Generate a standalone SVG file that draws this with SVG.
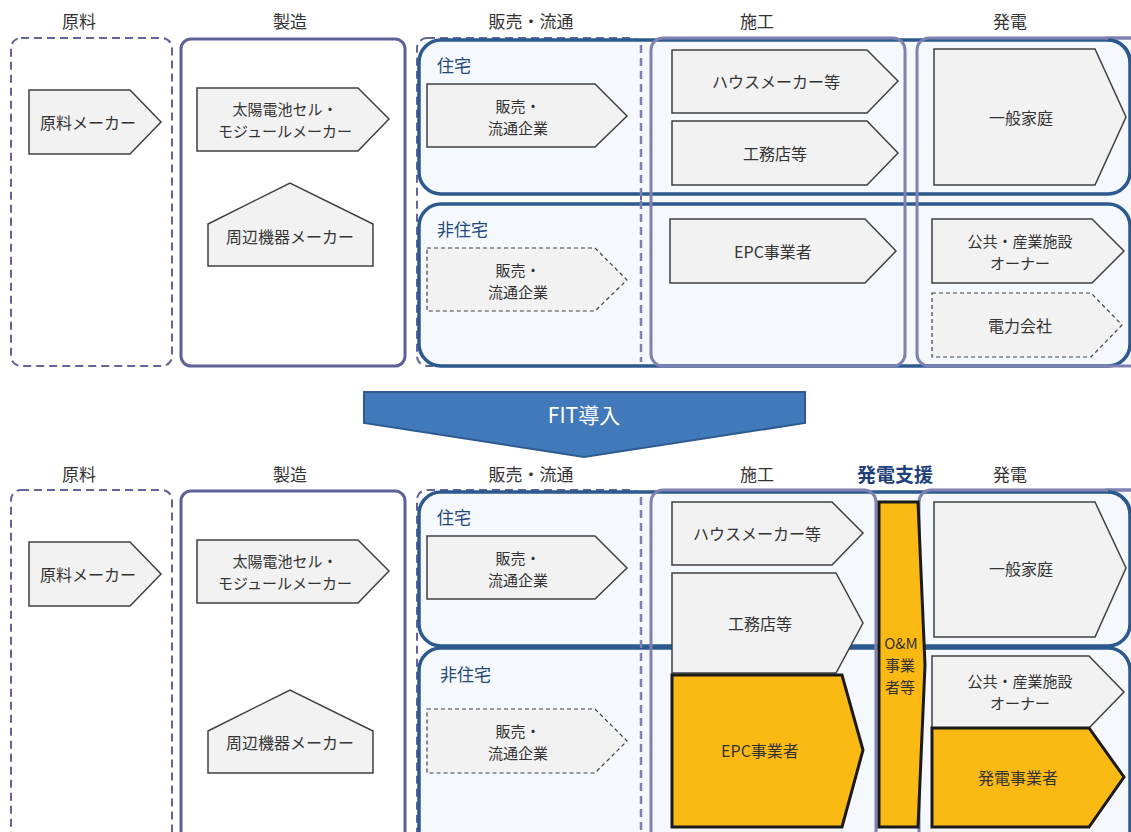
<svg xmlns="http://www.w3.org/2000/svg" width="1131" height="832" viewBox="0 0 1131 832">
<style>
text{font-family:"Noto Sans CJK JP","Noto Sans",sans-serif;fill:#333;text-anchor:middle;dominant-baseline:central}
.hd{font-size:17px}
.nt{font-size:16px}
.n2{font-size:15px}
.sub{font-size:17px;fill:#24477A;text-anchor:start}
.dashp{fill:none;stroke:#62649A;stroke-width:2;stroke-dasharray:8 5}
.solp{fill:none;stroke:#5E6199;stroke-width:3}
.colp{fill:none;stroke:#7F81B2;stroke-width:3}
.blue{fill:#F5F9FD;stroke:#2C5A8E;stroke-width:3.5}
.nd{fill:#F2F2F2;stroke:#404040;stroke-width:1.5}
.ndd{fill:#F2F2F2;stroke:#404040;stroke-width:1.2;stroke-dasharray:4 3}
.or{fill:#FBBA13;stroke:#1A1A1A;stroke-width:3;stroke-linejoin:miter}
</style>
<rect width="1131" height="832" fill="#fff"/>

<!-- ===== TOP HALF ===== -->
<g id="headers-top">
<text class="hd" x="79" y="20">原料</text>
<text class="hd" x="290" y="20">製造</text>
<text class="hd" x="531" y="20">販売・流通</text>
<text class="hd" x="757" y="20">施工</text>
<text class="hd" x="1010" y="20">発電</text>
</g>
<g id="containers-top">
<rect class="dashp" x="11" y="38" width="161" height="328" rx="10"/>
<rect class="solp" x="181" y="39" width="224" height="327" rx="10"/>
<rect class="dashp" x="417" y="38" width="224" height="328" rx="10"/>
<rect x="651" y="38" width="254" height="328" rx="12" fill="#F5F9FD"/>
<rect x="917" y="38" width="230" height="328" rx="12" fill="#F5F9FD"/>
<rect class="blue" x="419" y="40" width="711" height="154" rx="22"/>
<rect class="blue" x="419" y="204" width="711" height="162" rx="22"/>
<line x1="641" y1="45" x2="641" y2="362" stroke="#7F81B2" stroke-width="2.5" stroke-dasharray="8 5"/>
<rect class="colp" x="651" y="38" width="254" height="328" rx="12"/>
<rect class="colp" x="917" y="38" width="230" height="328" rx="12"/>
<line x1="1105" y1="38" x2="1131" y2="38" stroke="#7F81B2" stroke-width="3"/>
<path d="M1108 40 A22 22 0 0 1 1130 62" fill="none" stroke="#2C5A8E" stroke-width="3.5"/>
</g>
<text class="sub" x="437" y="64">住宅</text>
<text class="sub" x="437" y="228">非住宅</text>

<g id="t-genryo">
<polygon class="nd" points="29,90 130,90 161,122 130,154 29,154"/>
<text class="nt" x="88" y="122">原料メーカー</text>
</g>
<g id="t-module">
<polygon class="nd" points="197,88 358,88 389,119 358,151 197,151"/>
<text class="n2" x="285" y="108">太陽電池セル・</text>
<text class="n2" x="285" y="130">モジュールメーカー</text>
</g>
<g id="t-shuhen">
<polygon class="nd" points="208,224 290,183 373,224 373,266 208,266"/>
<text class="nt" x="290" y="236">周辺機器メーカー</text>
</g>
<g id="t-hanbai1">
<polygon class="nd" points="427,84 595,84 627,116 595,147 427,147"/>
<text class="n2" x="518" y="105">販売・</text>
<text class="n2" x="518" y="127">流通企業</text>
</g>
<g id="t-hanbai2">
<polygon class="ndd" points="427,248 595,248 627,280 595,311 427,311"/>
<text class="n2" x="518" y="269">販売・</text>
<text class="n2" x="518" y="291">流通企業</text>
</g>
<g id="t-house">
<polygon class="nd" points="672,50 867,50 898,81 867,113 672,113"/>
<text class="nt" x="776" y="81">ハウスメーカー等</text>
</g>
<g id="t-koumu">
<polygon class="nd" points="672,121 867,121 898,153 867,185 672,185"/>
<text class="nt" x="775" y="153">工務店等</text>
</g>
<g id="t-epc">
<polygon class="nd" points="670,219 865,219 896,251 865,283 670,283"/>
<text class="nt" x="773" y="251">EPC事業者</text>
</g>
<g id="t-katei">
<polygon class="nd" points="934,49 1095,49 1126,117 1095,185 934,185"/>
<text class="nt" x="1021" y="117">一般家庭</text>
</g>
<g id="t-owner">
<polygon class="nd" points="932,219 1092,219 1124,251 1092,283 932,283"/>
<text class="n2" x="1020" y="240">公共・産業施設</text>
<text class="n2" x="1020" y="262">オーナー</text>
</g>
<g id="t-denryoku">
<polygon class="ndd" points="932,293 1091,293 1122,325 1091,357 932,357"/>
<text class="nt" x="1020" y="325">電力会社</text>
</g>

<!-- ===== FIT ARROW ===== -->
<g id="fit">
<polygon points="364,392 805,392 805,423 584,457 364,423" fill="#4179BA" stroke="#2D5B91" stroke-width="2"/>
<text x="584" y="414" style="fill:#fff;font-size:21px">FIT導入</text>
</g>

<!-- ===== BOTTOM HALF ===== -->
<g id="headers-bottom">
<text class="hd" x="79" y="473">原料</text>
<text class="hd" x="290" y="473">製造</text>
<text class="hd" x="531" y="473">販売・流通</text>
<text class="hd" x="757" y="473">施工</text>
<text x="895" y="473" style="font-size:19px;font-weight:bold;fill:#1F3F7A">発電支援</text>
<text class="hd" x="1010" y="473">発電</text>
</g>
<g id="containers-bottom">
<rect class="dashp" x="11" y="490" width="161" height="370" rx="10"/>
<rect class="solp" x="181" y="491" width="224" height="370" rx="10"/>
<rect class="dashp" x="417" y="490" width="224" height="370" rx="10"/>
<rect x="651" y="490" width="225" height="370" rx="12" fill="#F5F9FD"/>
<rect x="919" y="490" width="230" height="370" rx="12" fill="#F5F9FD"/>
<rect class="blue" x="419" y="492" width="711" height="154" rx="22"/>
<rect class="blue" x="419" y="648" width="711" height="210" rx="22"/>
<line x1="641" y1="497" x2="641" y2="832" stroke="#7F81B2" stroke-width="2.5" stroke-dasharray="8 5"/>
<rect class="colp" x="651" y="490" width="225" height="370" rx="12"/>
<rect class="colp" x="919" y="490" width="230" height="370" rx="12"/>
<line x1="1105" y1="490" x2="1131" y2="490" stroke="#7F81B2" stroke-width="3"/>
<path d="M1108 492 A22 22 0 0 1 1130 514" fill="none" stroke="#2C5A8E" stroke-width="3.5"/>
</g>
<text class="sub" x="437" y="516">住宅</text>
<text class="sub" x="440" y="673">非住宅</text>

<g id="b-genryo">
<polygon class="nd" points="29,542 130,542 161,574 130,606 29,606"/>
<text class="nt" x="88" y="574">原料メーカー</text>
</g>
<g id="b-module">
<polygon class="nd" points="197,540 358,540 389,571 358,603 197,603"/>
<text class="n2" x="285" y="560">太陽電池セル・</text>
<text class="n2" x="285" y="582">モジュールメーカー</text>
</g>
<g id="b-shuhen">
<polygon class="nd" points="208,731 290,690 373,731 373,773 208,773"/>
<text class="nt" x="290" y="742">周辺機器メーカー</text>
</g>
<g id="b-hanbai1">
<polygon class="nd" points="427,536 595,536 627,568 595,599 427,599"/>
<text class="n2" x="518" y="557">販売・</text>
<text class="n2" x="518" y="579">流通企業</text>
</g>
<g id="b-hanbai2">
<polygon class="ndd" points="427,709 595,709 627,741 595,773 427,773"/>
<text class="n2" x="518" y="730">販売・</text>
<text class="n2" x="518" y="752">流通企業</text>
</g>
<g id="b-house">
<polygon class="nd" points="672,502 832,502 863,533 832,565 672,565"/>
<text class="nt" x="757" y="533">ハウスメーカー等</text>
</g>
<g id="b-koumu">
<polygon class="nd" points="672,573 836,573 863,623 836,673 672,673"/>
<text class="nt" x="760" y="623">工務店等</text>
</g>
<g id="b-epc">
<polygon class="or" points="672,675 842,675 863,750 842,827 672,827"/>
<text class="nt" x="760" y="750">EPC事業者</text>
</g>
<g id="b-om">
<polygon class="or" points="879,502 918,502 925,665 918,827 879,827"/>
<text class="n2" x="901" y="642">O&amp;M</text>
<text class="n2" x="900" y="664">事業</text>
<text class="n2" x="900" y="686">者等</text>
</g>
<g id="b-katei">
<polygon class="nd" points="934,502 1095,502 1126,568 1095,637 934,637"/>
<text class="nt" x="1021" y="568">一般家庭</text>
</g>
<g id="b-owner">
<polygon class="nd" points="932,656 1089,656 1124,692 1089,728 932,728"/>
<text class="n2" x="1020" y="680">公共・産業施設</text>
<text class="n2" x="1020" y="702">オーナー</text>
</g>
<g id="b-hatsuden">
<polygon class="or" points="932,728 1089,728 1124,777 1089,827 932,827"/>
<text class="nt" x="1018" y="777">発電事業者</text>
</g>
</svg>
